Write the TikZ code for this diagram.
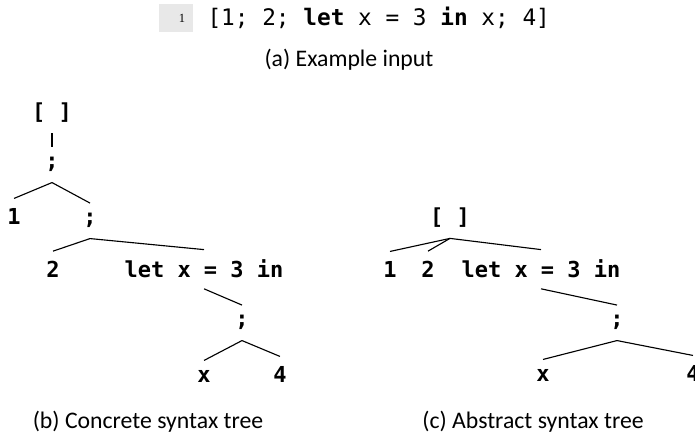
\documentclass[tikz,border=0pt]{standalone}
\usepackage{fontspec}
\setmainfont{Carlito}
\setmonofont{DejaVu Sans Mono}
\newfontfamily\linenofont{Liberation Serif}

\begin{document}
\begin{tikzpicture}[x=0.4pt, y=-0.4pt,
  tn/.style={font=\ttfamily\bfseries\fontsize{8.8}{10}\selectfont, inner sep=4pt, anchor=base},
  subcap/.style={font=\fontsize{9.5}{11}\selectfont},
  br/.style={line width=0.45pt}]

\useasboundingbox (0,0) rectangle (695,437);

% input line
\node[fill=gray!18, minimum width=13.6pt, minimum height=11.2pt, inner sep=0pt,
  font=\linenofont\fontsize{5}{6}\selectfont] (lineno) at (176,18) {\hspace*{4.8pt}1};
\node[anchor=base west, inner sep=0pt, font=\ttfamily\fontsize{9.1}{11}\selectfont]
  (input) at (207,26) {[1; 2; \textbf{let} x = 3 \textbf{in} x; 4]};
\node[subcap] (capa) at (349,60) {(a) Example input};

% concrete syntax tree
\node[tn] (c0) at (52,120) {[ ]};
\node[tn] (c1) at (52,169) {;};
\node[tn] (c2) at (14,225) {1};
\node[tn] (c3) at (90,225) {;};
\node[tn] (c4) at (53,278) {2};
\node[tn] (c5) at (204,278) {let x = 3 in};
\node[tn] (c6) at (242,327) {;};
\node[tn] (c7) at (204,383) {x};
\node[tn] (c8) at (280,383) {4};

\draw[br] (c0.south) -- (c1.north);
\draw[br] (c1.south) -- (c2.north);
\draw[br] (c1.south) -- (c3.north);
\draw[br] (c3.south) -- (c4.north);
\draw[br] (c3.south) -- (c5.north);
\draw[br] (c5.south) -- (c6.north);
\draw[br] (c6.south) -- (c7.north);
\draw[br] (c6.south) -- (c8.north);

\node[subcap] (capb) at (148,422) {(b) Concrete syntax tree};

% abstract syntax tree
\node[tn] (a0) at (450,225) {[ ]};
\node[tn] (a1) at (390,278) {1};
\node[tn] (a2) at (428,278) {2};
\node[tn] (a3) at (541,278) {let x = 3 in};
\node[tn] (a4) at (617,327) {;};
\node[tn] (a5) at (543,382) {x};
\node[tn] (a6) at (693,382) {4};

\draw[br] (a0.south) -- (a1.north);
\draw[br] (a0.south) -- (a2.north);
\draw[br] (a0.south) -- (a3.north);
\draw[br] (a3.south) -- (a4.north);
\draw[br] (a4.south) -- (a5.north);
\draw[br] (a4.south) -- (a6.north);

\node[subcap] (capc) at (533,422) {(c) Abstract syntax tree};

\end{tikzpicture}
\end{document}
